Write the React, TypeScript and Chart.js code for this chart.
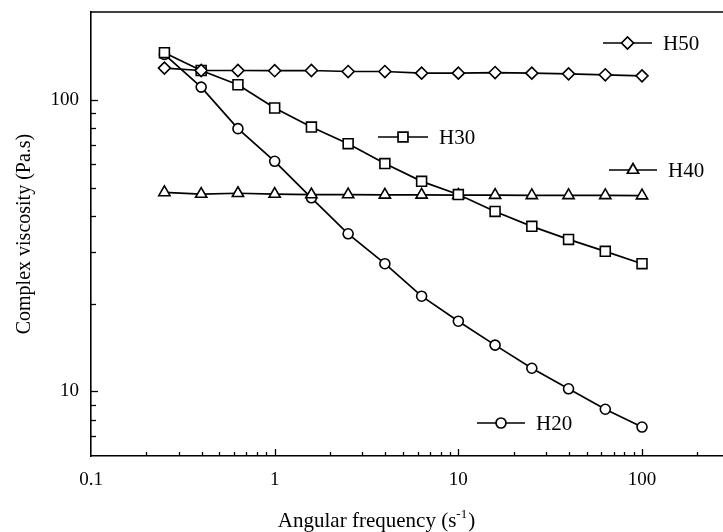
import React, { useEffect, useRef } from 'react';
import { Chart, registerables } from 'chart.js';
import { drawPoint } from 'chart.js/helpers';

Chart.register(...registerables);

// ---- data ----
const frequency = [0.251, 0.398, 0.631, 1, 1.585, 2.512, 3.981, 6.31, 10, 15.85, 25.12, 39.81, 63.1, 100];
const h50 = [128.4, 126, 126, 125.8, 126, 125, 125, 123.4, 123.4, 124, 123.4, 122.7, 121.8, 120.8];
const h30 = [145, 126, 112.6, 93.7, 80.6, 70.7, 60.4, 52.5, 47.3, 41.4, 36.8, 33.2, 30.2, 27.4];
const h40 = [48.1, 47.5, 47.8, 47.5, 47.3, 47.3, 47.2, 47.2, 47.1, 47.1, 47.0, 47.0, 47.0, 46.9];
const h20 = [143, 110.5, 79.6, 61.5, 46.1, 34.7, 27.4, 21.2, 17.4, 14.4, 12.0, 10.2, 8.68, 7.54];
const seriesNames = ['H50', 'H30', 'H40', 'H20'];
const seriesValues = [h50, h30, h40, h20];
const xTickValues = [0.1, 1, 10, 100];
const yTickValues = [10, 100];
const xTitle = 'Angular frequency (s';
const xTitleSup = '-1';
const yTitle = 'Complex viscosity (Pa.s)';

const FONT = '"Liberation Serif", "Times New Roman", serif';
const styles = [
  { pointStyle: 'rectRot', radius: 6 },
  { pointStyle: 'rect', radius: 7 },
  { pointStyle: 'triangle', radius: 6.5 },
  { pointStyle: 'circle', radius: 5 },
];
// legend placement (pixels): line start, line end, y, text x
const legendLayout = [
  { x1: 603, x2: 652, y: 43, tx: 663 },
  { x1: 378, x2: 428, y: 137, tx: 439 },
  { x1: 609, x2: 657, y: 170, tx: 668 },
  { x1: 477, x2: 525, y: 423, tx: 536 },
];

const decorPlugin = {
  id: 'decor',
  afterDraw(chart: any) {
    const { ctx, chartArea, scales } = chart;
    const xs = scales.x;
    const ys = scales.y;
    ctx.save();
    ctx.strokeStyle = '#000';
    ctx.lineWidth = 1.6;
    // top frame line
    ctx.beginPath();
    ctx.moveTo(chartArea.left, chartArea.top);
    ctx.lineTo(chartArea.right, chartArea.top);
    ctx.stroke();
    // x ticks (inward)
    ctx.lineWidth = 1.3;
    for (let e = -1; e <= 2; e++) {
      for (let m = 1; m <= 9; m++) {
        const v = m * Math.pow(10, e);
        if (v <= xs.min * 1.0001 || v >= xs.max) continue;
        const px = Math.round(xs.getPixelForValue(v)) + 0.5;
        const len = m === 1 ? 7 : 4;
        ctx.beginPath();
        ctx.moveTo(px, chartArea.bottom);
        ctx.lineTo(px, chartArea.bottom - len);
        ctx.stroke();
      }
    }
    // y ticks (inward)
    for (let e = 0; e <= 2; e++) {
      for (let m = 1; m <= 9; m++) {
        const v = m * Math.pow(10, e);
        if (v <= ys.min * 1.0001 || v >= ys.max) continue;
        const py = Math.round(ys.getPixelForValue(v)) + 0.5;
        const len = m === 1 ? 7 : 5;
        ctx.beginPath();
        ctx.moveTo(chartArea.left, py);
        ctx.lineTo(chartArea.left + len, py);
        ctx.stroke();
      }
    }
    // legends
    ctx.lineWidth = 1.7;
    legendLayout.forEach((l, i) => {
      ctx.strokeStyle = '#000';
      ctx.beginPath();
      ctx.moveTo(l.x1, l.y);
      ctx.lineTo(l.x2, l.y);
      ctx.stroke();
      ctx.fillStyle = '#fff';
      ctx.strokeStyle = '#000';
      drawPoint(ctx, { pointStyle: styles[i].pointStyle, radius: styles[i].radius, rotation: 0, borderWidth: 1.6 } as any, (l.x1 + l.x2) / 2, l.y);
      ctx.fillStyle = '#000';
      ctx.font = `21px ${FONT}`;
      ctx.textAlign = 'left';
      ctx.textBaseline = 'middle';
      ctx.fillText(seriesNames[i], l.tx, l.y + 1);
    });
    // x title with superscript
    ctx.fillStyle = '#000';
    ctx.textBaseline = 'alphabetic';
    ctx.textAlign = 'left';
    ctx.font = `21px ${FONT}`;
    const w1 = ctx.measureText(xTitle).width;
    const w3 = ctx.measureText(')').width;
    ctx.font = `13px ${FONT}`;
    const w2 = ctx.measureText(xTitleSup).width;
    const total = w1 + w2 + w3 + 1;
    let x = 376.5 - total / 2;
    const base = 527;
    ctx.font = `21px ${FONT}`;
    ctx.fillText(xTitle, x, base);
    x += w1;
    ctx.font = `13px ${FONT}`;
    ctx.fillText(xTitleSup, x, base - 9);
    x += w2 + 1;
    ctx.font = `21px ${FONT}`;
    ctx.fillText(')', x, base);
    ctx.restore();
  },
};

const zeroPad = (s: any) => {
  s.paddingTop = 0;
  s.paddingBottom = 0;
  s.paddingLeft = 0;
  s.paddingRight = 0;
};

export default function App() {
  const ref = useRef<HTMLCanvasElement>(null);
  useEffect(() => {
    if (!ref.current) return;
    const datasets = seriesNames.map((name, i) => ({
      label: name,
      data: frequency.map((f, j) => ({ x: f, y: seriesValues[i][j] })),
      borderColor: '#000',
      borderWidth: 1.7,
      backgroundColor: '#fff',
      pointBackgroundColor: '#fff',
      pointBorderColor: '#000',
      pointBorderWidth: 1.6,
      pointStyle: styles[i].pointStyle as any,
      pointRadius: styles[i].radius,
      tension: 0,
      fill: false,
    }));
    const chart = new Chart(ref.current, {
      type: 'line',
      data: { datasets },
      options: {
        animation: false,
        responsive: false,
        layout: { autoPadding: false, padding: { top: 12, left: 0, right: 0, bottom: 0 } },
        plugins: { legend: { display: false }, tooltip: { enabled: false } },
        scales: {
          x: {
            type: 'logarithmic',
            min: 0.1,
            max: 276,
            grid: { display: false, drawTicks: false },
            border: { display: true, color: '#000', width: 1.6 },
            afterBuildTicks: (s: any) => { s.ticks = xTickValues.map((v) => ({ value: v })); },
            afterFit: (s: any) => { s.height = 76; zeroPad(s); },
            ticks: {
              autoSkip: false,
              maxRotation: 0,
              padding: 13,
              color: '#000',
              font: { family: FONT, size: 19 },
              callback: (v: any) => String(v),
            },
          },
          y: {
            type: 'logarithmic',
            min: 6,
            max: 200,
            grid: { display: false, drawTicks: false },
            border: { display: true, color: '#000', width: 1.6 },
            afterBuildTicks: (s: any) => { s.ticks = yTickValues.map((v) => ({ value: v })); },
            afterFit: (s: any) => { s.width = 91; zeroPad(s); },
            title: {
              display: true,
              text: yTitle,
              color: '#000',
              font: { family: FONT, size: 20 },
              padding: { top: 13, bottom: 0 },
            },
            ticks: {
              autoSkip: false,
              padding: 12,
              color: '#000',
              font: { family: FONT, size: 19 },
              callback: (v: any) => String(v),
            },
          },
        },
      },
      plugins: [decorPlugin],
    });
    return () => chart.destroy();
  }, []);
  return (
    <div style={{ position: 'absolute', left: 0, top: 0, width: 723, height: 532, background: '#fff' }}>
      <canvas ref={ref} width={723} height={532} style={{ display: 'block' }} />
    </div>
  );
}
